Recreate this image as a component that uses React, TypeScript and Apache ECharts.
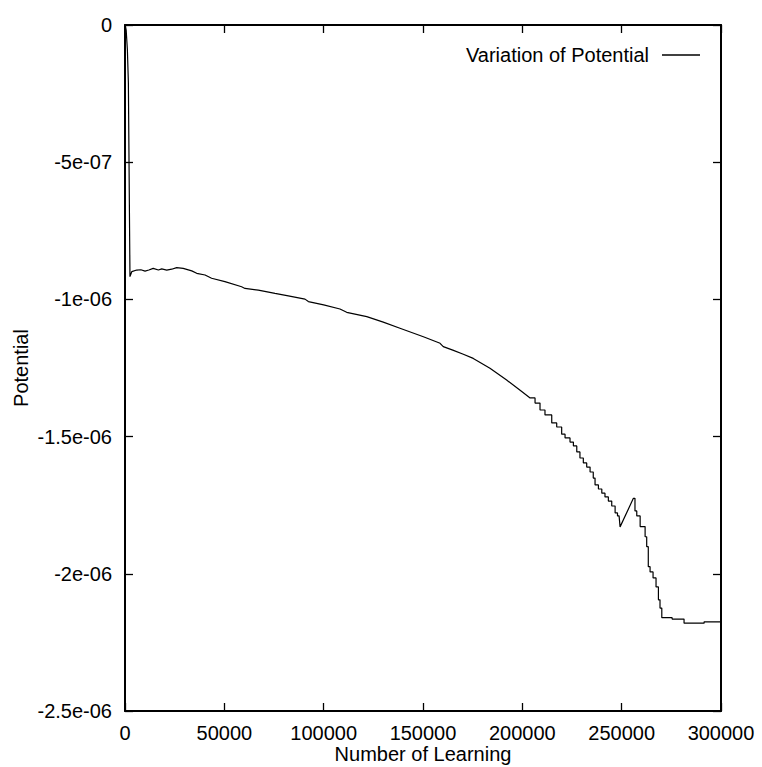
import React, { useEffect, useRef } from "react";
import * as echarts from "echarts";

// Learning iterations (x) and the potential at each one, in units of 1e-6.
const ITERATIONS = [
  0, 600, 1200, 1700, 2500, 3400, 5900, 8000, 10100, 12000, 14200, 16800, 18500,
  21000, 23500, 26000, 29300, 33600, 36100, 40300, 43600, 50300, 58700, 60400,
  67100, 75500, 82200, 90600, 92300, 100000, 108200, 111600, 121700, 130000,
  138400, 150200, 158600, 160200, 165000, 170300, 175300, 183700, 192100, 199700,
  203900, 206400, 206400, 208900, 208900, 211400, 211400, 214800, 214800, 217300,
  217300, 219800, 219800, 221500, 221500, 224000, 224000, 225700, 225700, 227400,
  227400, 229000, 229000, 230700, 230700, 232400, 232400, 234100, 234100, 235700,
  235700, 236600, 236600, 238300, 238300, 240000, 240000, 241600, 241600, 243300,
  243300, 245000, 245000, 246700, 246700, 247900, 247900, 248700, 249200,
  255900, 256700, 256700, 257600, 257600, 259300, 259300, 261800, 261800, 262600,
  262600, 263400, 263400, 264300, 264300, 265800, 265800, 267300, 267300, 268500,
  268500, 269300, 269300, 270200, 270200, 275400, 275400, 281400, 281400, 291500,
  291500, 300000,
];

const POTENTIAL_MICRO = [
  0, -0.02, -0.09, -0.21, -0.917, -0.899, -0.893, -0.892, -0.897, -0.893, -0.887,
  -0.893, -0.889, -0.893, -0.89, -0.884, -0.887, -0.896, -0.905, -0.911, -0.923,
  -0.935, -0.954, -0.96, -0.966, -0.978, -0.987, -0.999, -1.008, -1.02, -1.035,
  -1.047, -1.063, -1.083, -1.105, -1.136, -1.16, -1.172, -1.185, -1.2, -1.215,
  -1.251, -1.294, -1.336,
  -1.359, -1.359, -1.378, -1.378, -1.403, -1.403, -1.421, -1.421, -1.45, -1.45,
  -1.465, -1.465, -1.491, -1.491, -1.505, -1.505, -1.52, -1.52, -1.534, -1.534,
  -1.556, -1.556, -1.578, -1.578, -1.596, -1.596, -1.611, -1.611, -1.629, -1.629,
  -1.651, -1.651, -1.676, -1.676, -1.691, -1.691, -1.706, -1.706, -1.72, -1.72,
  -1.735, -1.735, -1.753, -1.753, -1.778, -1.778, -1.789, -1.789, -1.829,
  -1.725, -1.725, -1.771, -1.771, -1.789, -1.789, -1.828, -1.828, -1.865, -1.865,
  -1.901, -1.901, -1.974, -1.974, -1.993, -1.993, -2.015, -2.015, -2.048, -2.048,
  -2.095, -2.095, -2.125, -2.125, -2.16, -2.16, -2.165, -2.165, -2.18, -2.18,
  -2.175, -2.175,
];

const Y_TICK_LABELS = ["0", "-5e-07", "-1e-06", "-1.5e-06", "-2e-06", "-2.5e-06"];
const SERIES_NAME = "Variation of Potential";
const X_NAME = "Number of Learning";
const Y_NAME = "Potential";

const FONT = "Liberation Sans, Arial, Helvetica, sans-serif";

export default function App() {
  const ref = useRef<HTMLDivElement>(null);

  useEffect(() => {
    if (!ref.current) return;
    const chart = echarts.init(ref.current, undefined, { renderer: "svg" });

    const data = ITERATIONS.map((x, i) => [x, POTENTIAL_MICRO[i] * 1e-6]);

    // Framed plot: every side has its own axis line with ticks pointing inward.
    const frameLine = { show: true, onZero: false, lineStyle: { color: "#000", width: 2 } };
    const innerTick = { show: true, inside: true, length: 8, lineStyle: { color: "#000", width: 1.3 } };

    const xBase = {
      type: "value",
      min: 0,
      max: 300000,
      interval: 50000,
      axisLine: frameLine,
      axisTick: innerTick,
      splitLine: { show: false },
    };
    const yBase = {
      type: "value",
      min: -2.5e-6,
      max: 0,
      interval: 5e-7,
      axisLine: frameLine,
      axisTick: innerTick,
      splitLine: { show: false },
    };

    chart.setOption({
      animation: false,
      backgroundColor: "#fff",
      textStyle: { fontFamily: FONT },
      grid: {
        left: 125,
        top: 25,
        right: 41,
        bottom: 56,
        containLabel: false,
        outerBoundsMode: "none",
      },
      legend: {
        data: [SERIES_NAME],
        right: 62,
        top: 45,
        align: "right",
        padding: 0,
        icon: "rect",
        itemWidth: 38,
        itemHeight: 1.3,
        itemStyle: { color: "#000", borderWidth: 0 },
        textStyle: {
          fontSize: 20,
          fontFamily: FONT,
          color: "#000",
          padding: [0, 8, 0, 0],
        },
      },
      xAxis: [
        {
          ...xBase,
          position: "bottom",
          name: X_NAME,
          nameLocation: "middle",
          nameGap: 33,
          nameMoveOverlap: false,
          nameTextStyle: { fontSize: 20, fontFamily: FONT, color: "#000" },
          axisLabel: {
            show: true,
            margin: 12,
            fontSize: 20,
            fontFamily: FONT,
            color: "#000",
            formatter: (v: number) => String(v),
          },
        },
        {
          ...xBase,
          position: "top",
          axisLabel: { show: false },
        },
      ],
      yAxis: [
        {
          ...yBase,
          position: "left",
          name: Y_NAME,
          nameLocation: "middle",
          nameGap: 94,
          nameMoveOverlap: false,
          nameTextStyle: { fontSize: 20, fontFamily: FONT, color: "#000" },
          axisLabel: {
            show: true,
            margin: 13,
            fontSize: 20,
            fontFamily: FONT,
            color: "#000",
            formatter: (v: number) => Y_TICK_LABELS[Math.round(-v / 5e-7)] ?? "",
          },
        },
        {
          ...yBase,
          position: "right",
          axisLabel: { show: false },
        },
      ],
      series: [
        {
          name: SERIES_NAME,
          type: "line",
          xAxisIndex: 0,
          yAxisIndex: 0,
          data,
          symbol: "none",
          lineStyle: { color: "#000", width: 1.2 },
          itemStyle: { color: "#000" },
        },
      ],
    });

    return () => chart.dispose();
  }, []);

  return (
    <div
      ref={ref}
      style={{ position: "fixed", left: 0, top: 0, width: 762, height: 767, background: "#fff" }}
    />
  );
}
